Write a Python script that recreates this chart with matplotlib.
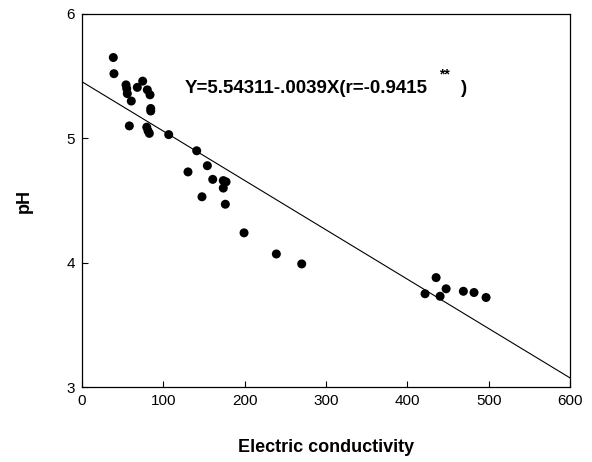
import numpy as np
import matplotlib
matplotlib.use("Agg")
import matplotlib.pyplot as plt

plt.rcParams['font.family'] = ['Liberation Sans', 'DejaVu Sans']

# electric conductivity vs pH
ec = [38.5, 39.3, 54.1, 55.0, 55.7, 60.6, 68.0, 74.6, 80.3, 83.6, 84.5, 84.5,
      58.2, 79.6, 81.2, 82.8, 106.6, 141.0, 154.1, 130.3, 160.7, 173.7, 177.1,
      173.7, 176.2, 147.5, 199.2, 238.9, 270.1, 435.3, 447.6, 421.7, 440.2,
      468.8, 481.9, 496.7]
ph = [5.65, 5.52, 5.43, 5.40, 5.36, 5.30, 5.41, 5.46, 5.39, 5.35, 5.24, 5.22,
      5.10, 5.09, 5.06, 5.04, 5.03, 4.90, 4.78, 4.73, 4.67, 4.66, 4.65,
      4.60, 4.47, 4.53, 4.24, 4.07, 3.99, 3.88, 3.79, 3.75, 3.73,
      3.77, 3.76, 3.72]

# regression line as drawn in the figure
fit_intercept = 5.455
fit_slope = -0.00397
equation = "Y=5.54311-.0039X(r=-0.9415"

xticks = [0, 100, 200, 300, 400, 500, 600]
yticks = [3, 4, 5, 6]

fig = plt.figure(figsize=(5.92, 4.62), dpi=100)
ax = fig.add_axes([0.1385, 0.1623, 0.963 - 0.1385, 0.9697 - 0.1623])

xl = np.array([0, 600])
ax.plot(xl, fit_intercept + fit_slope * xl, color='black', lw=0.8)
ax.scatter(ec, ph, s=42, color='black', edgecolors='none', zorder=3)

ax.set_xlim(0, 600)
ax.set_ylim(3, 6)
ax.set_xticks(xticks)
ax.set_yticks(yticks)
ax.tick_params(direction='in', length=4, width=0.8, labelsize=11, pad=5)
for s in ax.spines.values():
    s.set_linewidth(0.9)

ax.set_xlabel('Electric conductivity', fontsize=13, fontweight='bold', labelpad=22)
ax.set_ylabel('pH', fontsize=13, fontweight='bold', labelpad=24)

ax.text(126.6, 5.40, equation, fontsize=13.5, fontweight='bold', va='center', ha='left')
ax.text(470, 5.40, ')', fontsize=13.5, fontweight='bold', va='center', ha='center')
ax.text(446, 5.51, '**', fontsize=10, fontweight='bold', va='center', ha='center')

fig.savefig('out.png', dpi=100)
